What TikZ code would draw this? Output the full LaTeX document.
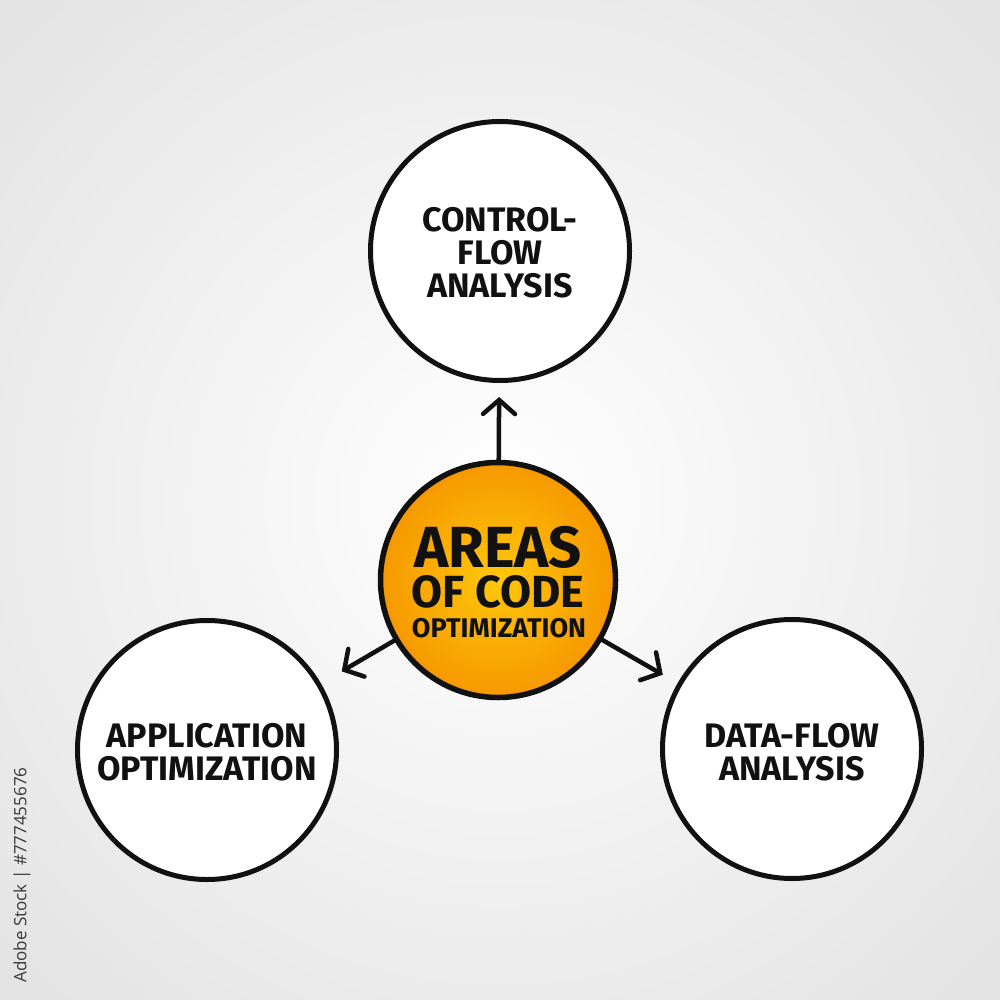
\documentclass[tikz,border=0pt]{standalone}
\usepackage{fontspec}
\setmainfont{Fira Sans}
\newfontfamily\idfont{Open Sans}
\usetikzlibrary{arrows.meta}
\definecolor{orin}{RGB}{255,200,10}
\definecolor{orout}{RGB}{246,152,0}
\definecolor{bgedge}{RGB}{226,226,226}
\definecolor{inkc}{RGB}{17,17,17}
\tikzset{
  outercirc/.style={circle, draw=inkc, line width=5pt, fill=white, minimum size=259pt, inner sep=0pt},
  centercirc/.style={circle, draw=inkc, line width=5.5pt, inner color=orin, outer color=orout, minimum size=235pt, inner sep=0pt},
  lbl/.style={align=center, text=inkc, font=\bfseries\fontsize{34}{34}\selectfont},
  ctext/.style={anchor=base, text=inkc, inner sep=0pt, text depth=0pt},
  arr/.style={draw=inkc, line width=4.5pt, line cap=round, -{Straight Barb[length=14pt,width=32pt,line cap=round]}}
}
\begin{document}
\begin{tikzpicture}[x=1pt,y=-1pt]
\useasboundingbox (0,0) rectangle (1000,1000);
\begin{scope}
\clip (0,0) rectangle (1000,1000);
\shade[inner color=white, outer color=bgedge] (500,500) circle (720);
\end{scope}

\node[outercirc] (t) at (500,251) {};
\node[outercirc] (l) at (207,750) {};
\node[outercirc] (r) at (792,749) {};
\node[centercirc] (c) at (498,580) {};

\node[lbl] (tt) at (500,253) {CONTROL-\\[-1pt]FLOW\\[-1pt]ANALYSIS};
\node[lbl] (lt) at (207,752) {APPLICATION\\[-1pt]OPTIMIZATION};
\node[lbl] (rt) at (792,752) {DATA-FLOW\\[-1pt]ANALYSIS};
\node[ctext, text height=40pt, font=\bfseries\fontsize{58}{58}\selectfont] (ct1) at (498,567) {AREAS};
\node[ctext, text height=32pt, font=\bfseries\fontsize{45}{45}\selectfont] (ct2) at (498,607) {OF CODE};
\node[ctext, text height=20pt, font=\bfseries\fontsize{27}{27}\selectfont] (ct3) at (499,637) {OPTIMIZATION};

\draw[arr, shorten >=14pt] (c) -- (t);
\draw[arr, shorten >=24pt] (c) -- (l);
\draw[arr, shorten >=17pt] (c) -- (r);

\node[rotate=90, text=black!78, font=\idfont\fontsize{17}{17}\selectfont] (id) at (22,875) {Adobe Stock | \#777455676};
\end{tikzpicture}
\end{document}
